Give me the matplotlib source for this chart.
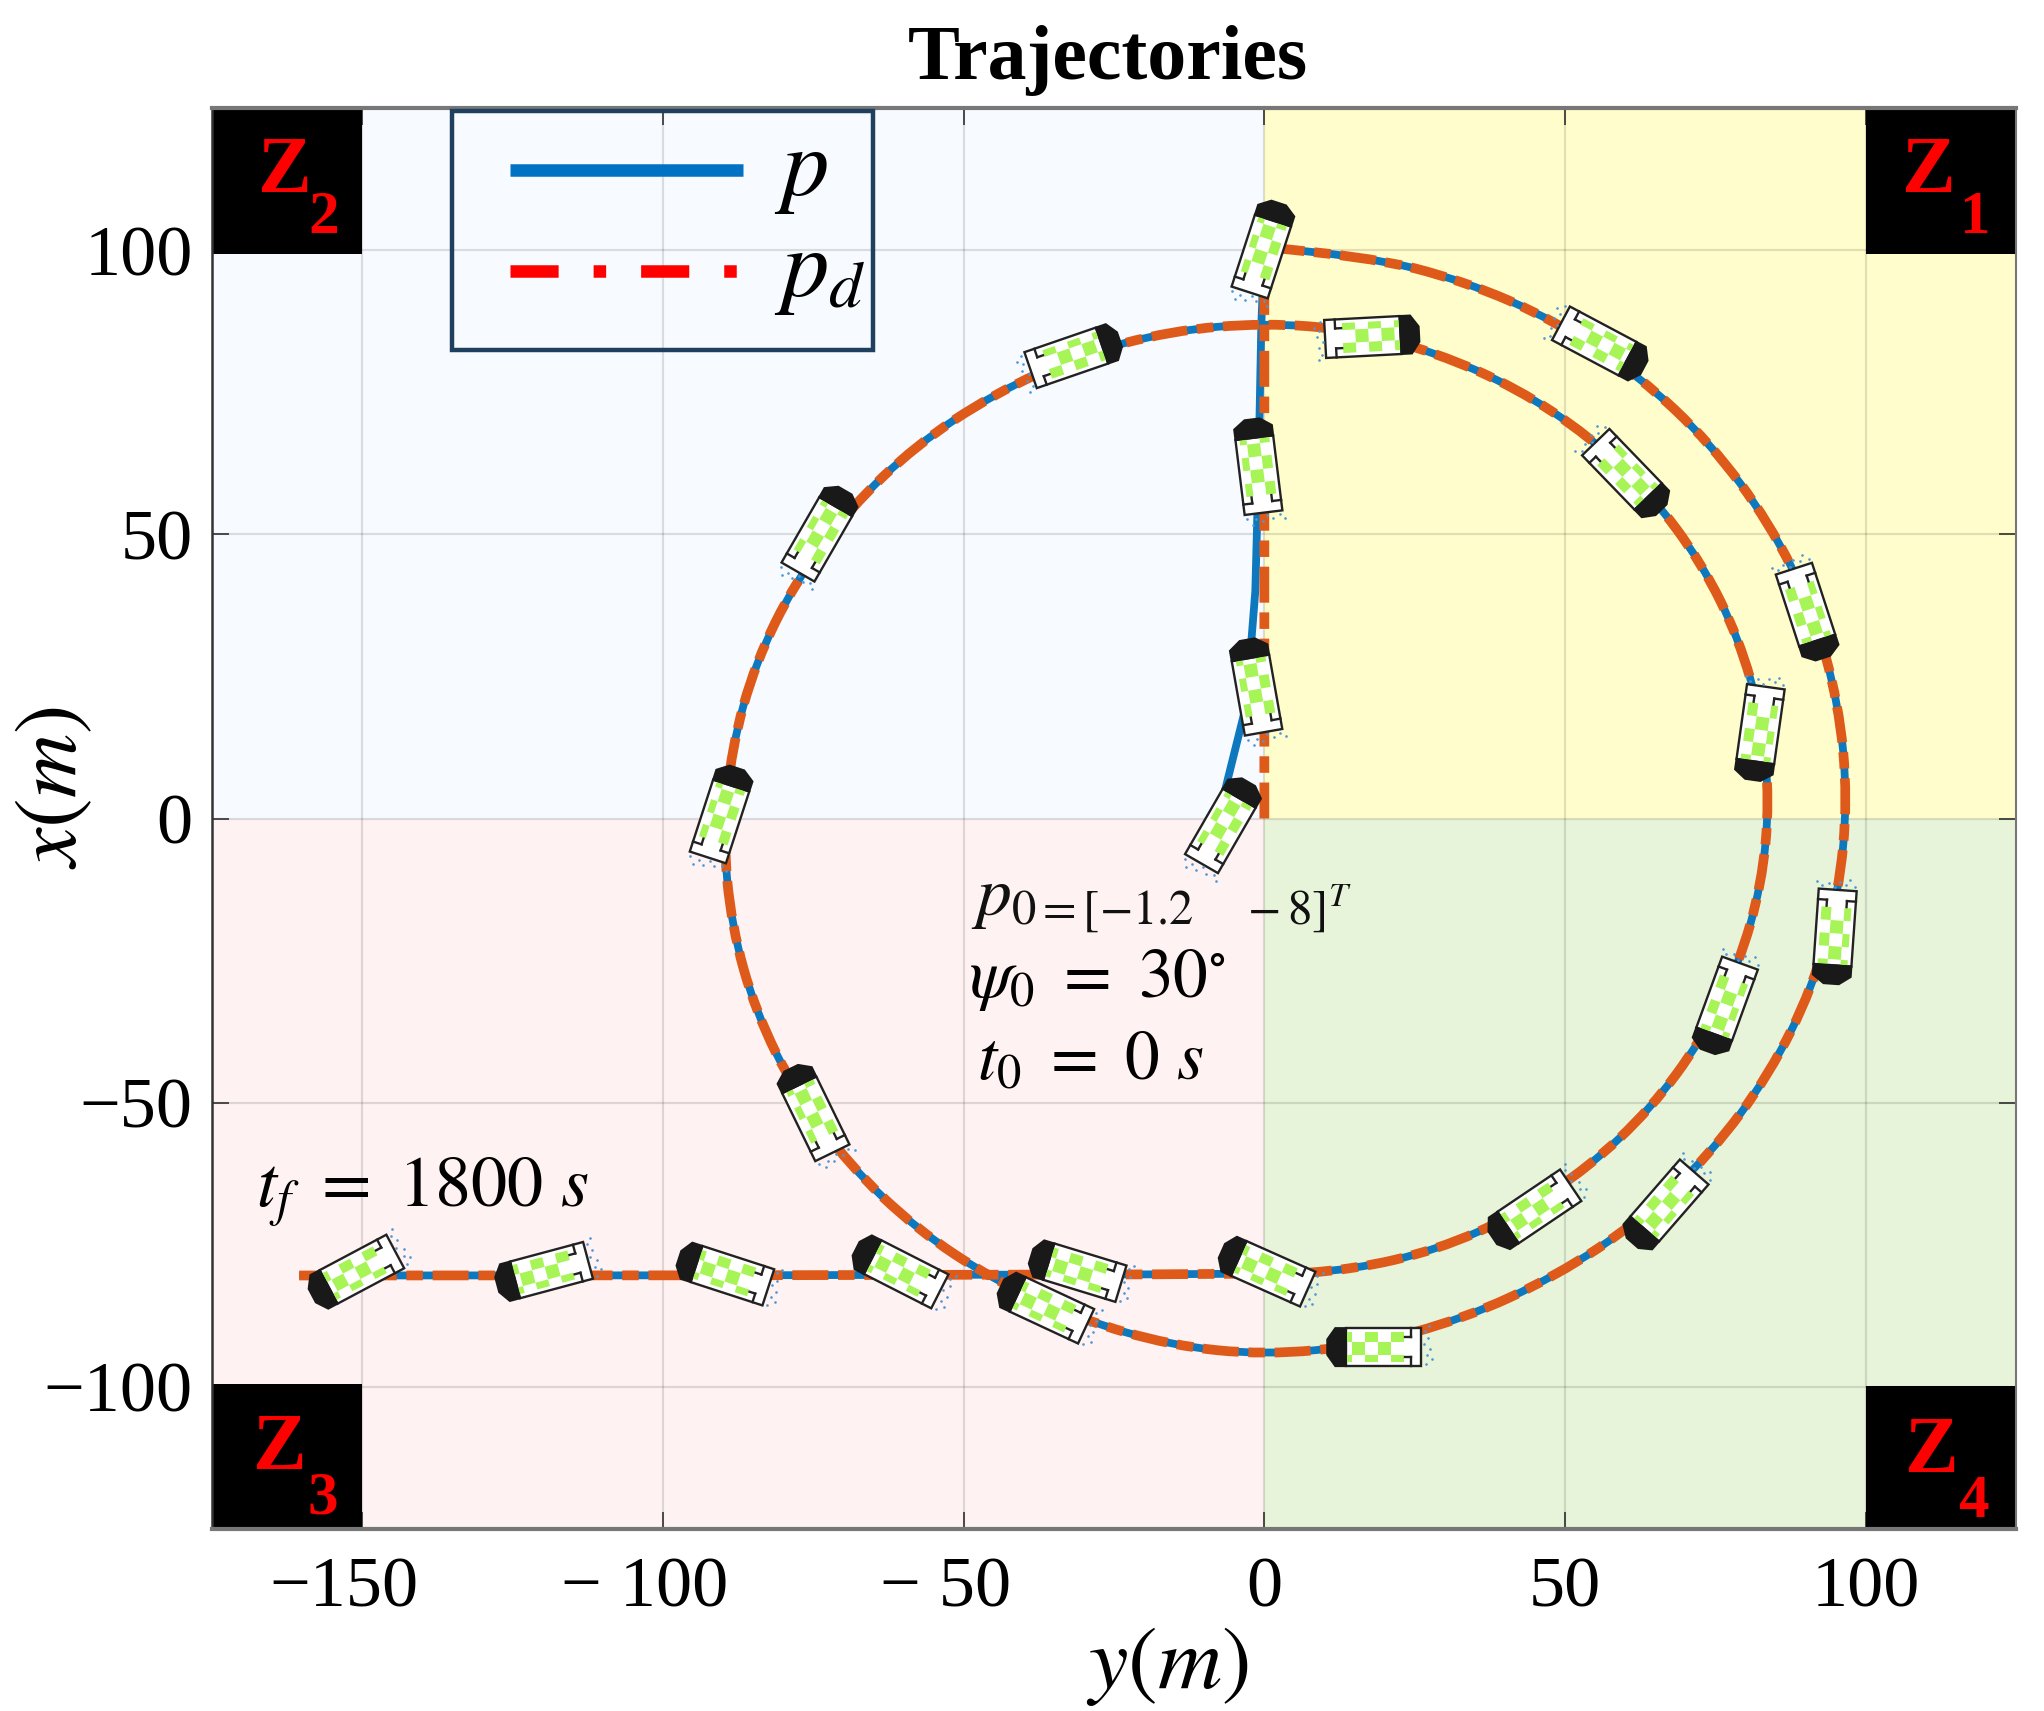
import matplotlib
matplotlib.use("Agg")
import matplotlib.pyplot as plt
from matplotlib.lines import Line2D
from matplotlib.path import Path
from matplotlib.patches import Polygon, Rectangle, PathPatch
from matplotlib.transforms import Affine2D, ScaledTranslation

plt.rcParams['font.family'] = ['Liberation Serif', 'DejaVu Serif']
plt.rcParams['mathtext.fontset'] = 'stix'

# ---------- data (y, x in metres) ----------
arc_y = [0, 16.8, 33.2, 48.5, 62.4, 74.3, 84.0, 91.2, 95.5, 97, 95.5, 91.2, 84.0, 74.3, 62.4, 48.5, 33.2, 16.8,
         0, -15.6, -30.8, -45, -57.9, -68.9, -77.9, -84.6, -88.6, -90, -88.6, -84.6, -77.9, -68.9, -57.9, -45, -30.8, -15.6,
         0, 14.6, 28.7, 42, 54, 64.3, 72.7, 78.9, 82.7, 84, 82.7, 78.9, 72.7, 64.3, 54, 42, 28.7, 14.6,
         0, -160.5]
arc_x = [100.5, 99.0, 94.6, 87.5, 77.8, 65.9, 52.0, 36.7, 20.3, 3.5, -13.3, -29.7, -45.0, -58.9, -70.8, -80.5, -88.0, -92.7,
         -94.4, -92.7, -88.0, -81.2, -72.2, -61.1, -48.3, -34.0, -18.9, -3.25, 12.4, 27.5, 41.8, 54.6, 65.7, 74.7, 81.5, 85.8,
         87.2, 86.0, 81.9, 75.7, 67.3, 57, 45, 31.7, 17.6, 3, -11.6, -25.7, -39, -51, -61.3, -69.7, -75.9, -79.4,
         -80.4, -80.4]
pd_start_y = [0, 0]
pd_start_x = [0, 100.5]
p_start_y = [-7, -3, -1.5, -1, -0.5, 0]
p_start_x = [3, 20, 40, 60, 87, 100.5]

veh_y = [-6.5, -1.5, -1.1, 0, 56.3, 90.5, 94.8, 66.3, 18.2, -36.8, -75.3, -90.1, -73.6, -31.4, 18.0, 60.6, 82.3, 76.4,
         44.4, 0, -31.4, -61.0, -90.0, -120.1, -151.5]
veh_x = [-0.7, 23.4, 62.1, 100.5, 83.2, 36.0, -20.9, -68.5, -93.0, -85.8, -51.3, 1.1, 50.6, 81.6, 84.8, 60.2, 14.9, -33.3,
         -69.2, -79.4, -79.4, -79.4, -79.9, -79.9, -80.1]
veh_heading = [60, 100, 97, 72, -28, -72, -94, -131, 180, 155, 116, 72, 60, 19, 3, -46, -98, -110,
               -146, 156, 163, 153, 162, -165, -152]

x_ticks = [-150, -100, -50, 0, 50, 100]
x_tick_labels = ['\u2212150', '\u2212 100', '\u2212 50', '0', '50', '100']
y_ticks = [-100, -50, 0, 50, 100]
y_tick_labels = ['\u2212100', '\u221250', '0', '50', '100']
zones = ['1', '2', '3', '4']

# ---------- figure ----------
W, H = 2044, 1711
AL, AR, AT, AB = 212, 2016, 108, 1529
fig = plt.figure(figsize=(W / 100, H / 100), dpi=100, facecolor='white')
ax = fig.add_axes([AL / W, (H - AB) / H, (AR - AL) / W, (AB - AT) / H])
XL, YL = (-175, 125), (-125, 125)
ax.set_xlim(*XL)
ax.set_ylim(*YL)

# quadrant backgrounds
ax.add_patch(Rectangle((0, 0), XL[1], YL[1], fc='#FFFDCB', ec='none', zorder=0))
ax.add_patch(Rectangle((XL[0], 0), -XL[0], YL[1], fc='#F7FAFE', ec='none', zorder=0))
ax.add_patch(Rectangle((XL[0], YL[0]), -XL[0], -YL[0], fc='#FEF2F2', ec='none', zorder=0))
ax.add_patch(Rectangle((0, YL[0]), XL[1], -YL[0], fc='#E8F4DA', ec='none', zorder=0))

ax.grid(True, color='black', alpha=0.12, lw=1.6, zorder=1)
ax.set_axisbelow(True)

# black zone corners
ax.add_patch(Rectangle((100, 99.3), 25, 25.7, fc='black', ec='none', zorder=2))
ax.add_patch(Rectangle((-175, 99.3), 25, 25.7, fc='black', ec='none', zorder=2))
ax.add_patch(Rectangle((-175, -125), 25, 25.5, fc='black', ec='none', zorder=2))
ax.add_patch(Rectangle((100, -125), 25, 25.2, fc='black', ec='none', zorder=2))
zone_pos = {'1': (110.4, 113.6, 118, 105.7), '2': (-163, 113.6, -156.5, 105.7),
            '3': (-163.9, -111, -156.5, -119.6), '4': (110.8, -111.5, 118, -120.3)}
for z in zones:
    a, b, c, d = zone_pos[z]
    ax.text(a, b, 'Z', color='red', fontsize=58, fontweight='bold', ha='center', va='center', zorder=3)
    ax.text(c, d, z, color='red', fontsize=44, fontweight='bold', ha='center', va='center', zorder=3)


def spiral_path(start_y, start_x):
    """Straight start, then a smooth curve through the arc readings."""
    verts = [(start_y[0], start_x[0])]
    codes = [Path.MOVETO]
    for a, b in zip(start_y[1:], start_x[1:]):
        verts.append((a, b))
        codes.append(Path.LINETO)
    pts = list(zip(arc_y, arc_x))
    for i in range(1, len(pts) - 1):
        nxt = pts[i + 1] if i == len(pts) - 2 else ((pts[i][0] + pts[i + 1][0]) / 2, (pts[i][1] + pts[i + 1][1]) / 2)
        verts += [pts[i], nxt]
        codes += [Path.CURVE3, Path.CURVE3]
    return Path(verts, codes)


ax.add_patch(PathPatch(spiral_path(p_start_y, p_start_x), fc='none', ec='#0E78BE', lw=5.6, capstyle='butt', zorder=4))
ax.add_patch(PathPatch(spiral_path(pd_start_y, pd_start_x), fc='none', ec='#DE5A1A', lw=7.0,
                       ls=(0, (3.7, 1.0, 1.7, 1.0)), capstyle='butt', zorder=5))

# vehicles
GREEN = '#A6F455'
DARK = '#191919'
OUT = '#222222'
col_edges = [-30, -17, -4, 9, 22, 27]
row_edges = [-15, -5, 8, 15]
spray_x = [-51, -54, -50, -56, -53, -58, -52, -55]
spray_y = [-16, -9, -3, 2, 8, 12, 17, -21]


def draw_vehicle(y, x, heading, z):
    t = Affine2D().rotate_deg(heading) + ScaledTranslation(y, x, ax.transData)
    ax.add_patch(Polygon([(-47.5, -19), (28, -19), (28, 19), (-47.5, 19)], closed=True, fc='white', ec=OUT, lw=1.7, transform=t, zorder=z))
    for i in range(len(col_edges) - 1):
        for j in range(len(row_edges) - 1):
            if (i + j) % 2 == 0:
                a, b = col_edges[i], col_edges[i + 1]
                c, d = row_edges[j], row_edges[j + 1]
                ax.add_patch(Polygon([(a, c), (b, c), (b, d), (a, d)], closed=True, fc=GREEN, ec='none', transform=t, zorder=z + 0.01))
    # rear brackets
    for s in (-1, 1):
        ax.add_line(Line2D([-37, -37], [s * 19, s * 10], color=OUT, lw=1.7, transform=t, zorder=z + 0.03))
        ax.add_line(Line2D([-37, -31], [s * 10, s * 10], color=OUT, lw=1.7, transform=t, zorder=z + 0.03))
    # nose
    ax.add_patch(Polygon([(27, -20), (39, -20), (47.5, -8), (47.5, 8), (39, 20), (27, 20)], closed=True, fc=DARK, ec='none', transform=t, zorder=z + 0.04))
    # thruster spray
    ax.add_line(Line2D(spray_x, spray_y, ls='', marker='o', ms=1.9, mew=0, color='#4F97D6', transform=t, zorder=z + 0.05))


for k, (vy, vx, vh) in enumerate(zip(veh_y, veh_x, veh_heading)):
    draw_vehicle(vy, vx, vh, 6 + k * 0.1)

# annotations
ax.text(-48.8, -17.3, r'$p_{0=[-1.2\quad\ -8]^T}$', fontsize=50, color='#111111', va='baseline', zorder=9)
ax.text(-49.1, -31.4, r'$\psi_0\ =\ 30^{\circ}$', fontsize=50, color='black', va='baseline', zorder=9)
ax.text(-47.8, -45.9, r'$t_0\ =\ 0\ s$', fontsize=50, color='black', va='baseline', zorder=9)
ax.text(-167.7, -68.5, r'$t_f\ =\ 1800\ s$', fontsize=52, color='black', va='baseline', zorder=9)

# legend
bw, bh = AR - AL, AB - AT
ax.add_patch(Rectangle(((452 - AL) / bw, 1 - (350 - AT) / bh), (873 - 452) / bw, (350 - 111) / bh, transform=ax.transAxes,
                       fc='none', ec='#1F3F5F', lw=3.2, zorder=10, clip_on=False))
h1 = Line2D([], [], color='#0072C3', lw=9.0, solid_capstyle='butt')
h2 = Line2D([], [], color='#FF0000', lw=9.0, ls=(0, (3.85, 2.8, 1.0, 2.8)), dash_capstyle='butt')
leg = ax.legend([h1, h2], [r'$p$', r'$p_d$'], loc='upper left', bbox_to_anchor=((510 - AL) / bw, 1 - (137 - AT) / bh),
                borderaxespad=0, fontsize=68, handlelength=2.47, handletextpad=0.33, borderpad=0,
                labelspacing=0.14, frameon=False)
leg.set_zorder(10)
for txt in leg.get_texts():
    txt.set_y(9)

# axes dressing
ax.set_xticks(x_ticks)
ax.set_xticklabels(x_tick_labels)
ax.set_yticks(y_ticks)
ax.set_yticklabels(y_tick_labels)
ax.tick_params(direction='in', length=12, width=1.1, top=True, right=True, labelsize=52, color='#222222')
ax.tick_params(axis='x', pad=20)
ax.tick_params(axis='y', pad=14)
for lab, v in zip(ax.get_xticklabels(), x_ticks):
    if v < 0:
        lab.set_transform(lab.get_transform() + Affine2D().translate(-18, 0))
for s, col, lw in (('top', '#777777', 3.0), ('bottom', '#777777', 3.0), ('left', '#333333', 1.8), ('right', '#777777', 1.5)):
    ax.spines[s].set_color(col)
    ax.spines[s].set_linewidth(lw)
    ax.spines[s].set_zorder(8)

fig.text(1108 / W, 1 - 60 / H, 'Trajectories', fontsize=56, fontweight='bold', ha='center', va='center')
fig.text(1167 / W, 1 - 1666 / H, r'$y(m)$', fontsize=64, ha='center', va='center')
fig.text(55 / W, 1 - 788 / H, r'$x(m)$', fontsize=64, ha='center', va='center', rotation=90)

fig.savefig('out.png', dpi=100)
